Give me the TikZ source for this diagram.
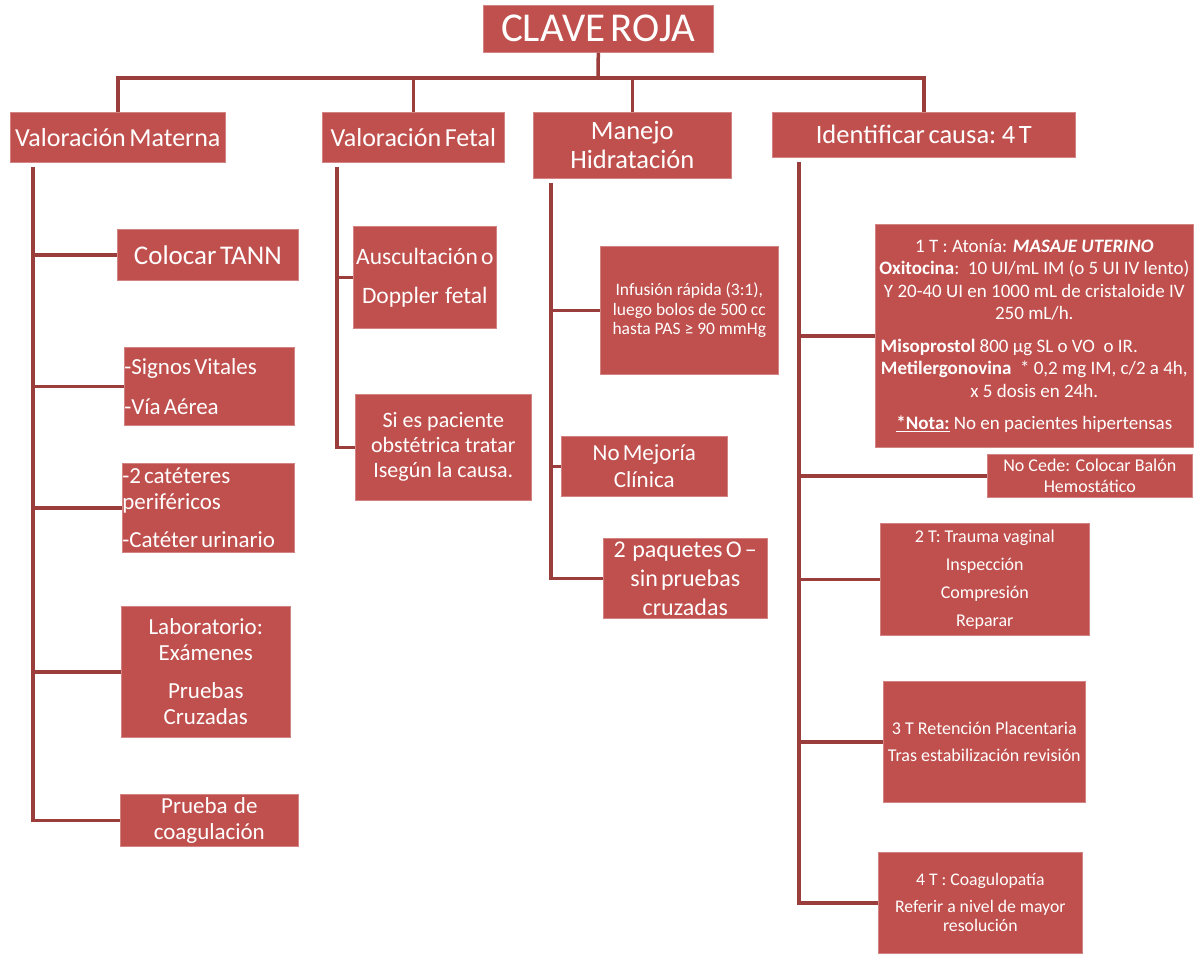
\documentclass[tikz,border=0pt]{standalone}
\usepackage{fontspec}
\setmainfont{Carlito}[WordSpace=0.6]
\newfontfamily\smallfont{Carlito}
\begin{document}
\begin{tikzpicture}[x=1pt,y=-1pt]
\definecolor{boxred}{HTML}{C0504D}
\definecolor{linered}{HTML}{9B3D3B}
\tikzset{
  bx/.style={fill=boxred, draw=boxred!70!white, line width=0.6pt, text=white, align=center,
    inner sep=0pt, anchor=north west, font=\fs{23}{26}},
  ln/.style={draw=linered, line width=3.5pt},
}
\newcommand{\fs}[2]{\fontsize{#1}{#2}\selectfont}
\fill[white] (0,0) rectangle (1198,953);
\useasboundingbox (0,0) rectangle (1198,953);

% top level
\node[bx, minimum width=230, minimum height=47, font=\fs{41}{44}] (cr) at (483,5) {CLAVE ROJA};
\node[bx, minimum width=215, minimum height=50, font=\fs{26}{28}] (vm) at (10,112) {Valoración Materna};
\node[bx, minimum width=182, minimum height=50, font=\fs{26}{28}] (vf) at (322,112) {Valoración Fetal};
\node[bx, minimum width=198, minimum height=66, font=\fs{26.5}{29}] (mh) at (533,112) {Manejo\\Hidratación};
\node[bx, minimum width=303, minimum height=45, font=\fs{26.5}{26}] (ic) at (772,112) {Identificar causa: 4 T};

% left column
\node[bx, minimum width=181, minimum height=51, font=\fs{27}{26}] (tann) at (117,229) {Colocar TANN};
\node[bx, minimum width=170, minimum height=78, text width=170, align=flush left] (sv) at (124,347) {-Signos Vitales\\[14pt]-Vía Aérea};
\node[bx, minimum width=172, minimum height=89, text width=172, align=flush left] (cat) at (122,463) {-2 catéteres\\periféricos\\[12pt]-Catéter urinario};
\node[bx, minimum width=169, minimum height=131] (lab) at (121,606) {Laboratorio:\\Exámenes\\[12pt]Pruebas\\Cruzadas};
\node[bx, minimum width=178, minimum height=52] (pc) at (120,794) {Prueba~~de\\coagulación};

% fetal column
\node[bx, minimum width=143, minimum height=102, font=\fs{23.5}{26}] (aus) at (353,226) {Auscultación o\\[13pt]Doppler~~fetal};
\node[bx, minimum width=176, minimum height=106, font=\smallfont\fs{22}{25}] (si) at (355,394) {Si es paciente\\obstétrica tratar\\Isegún la causa.};

% manejo column
\node[bx, minimum width=178, minimum height=128, font=\smallfont\fs{17.5}{19.5}] (inf) at (600,246) {Infusión rápida (3:1),\\luego bolos de 500 cc\\hasta PAS ≥ 90 mmHg};
\node[bx, minimum width=166, minimum height=60, font=\fs{23}{27}] (nm) at (561,436) {No Mejoría\\Clínica};
\node[bx, minimum width=164, minimum height=80, font=\fs{24}{29}] (paq) at (603,538) {2~~paquetes O –\\sin pruebas\\cruzadas};

% causes column
\node[bx, minimum width=318, minimum height=223, font=\smallfont\fs{19}{22.5}] (t1) at (875,224) {1 T : Atonía: \textbf{\textit{MASAJE UTERINO}}\\
\textbf{Oxitocina}:~~10 UI/mL IM (o 5 UI IV lento)\\
Y 20-40 UI en 1000 mL de cristaloide IV\\
250 mL/h.\\[10pt]
\textbf{Misoprostol} 800 µg SL o VO~~o IR.\makebox[50pt]{}\\
\textbf{Metilergonovina}~~* 0,2 mg IM, c/2 a 4h,\\
x 5 dosis en 24h.\\[10pt]
\underline{\textbf{*Nota:}} No en pacientes hipertensas};
\node[bx, minimum width=205, minimum height=43, font=\smallfont\fs{18}{21}] (nc) at (987,454) {No Cede: Colocar Balón\\Hemostático};
\node[bx, minimum width=209, minimum height=112, font=\smallfont\fs{18}{28}] (t2) at (880,523) {2 T: Trauma vaginal\\Inspección\\Compresión\\Reparar};
\node[bx, minimum width=202, minimum height=121, font=\smallfont\fs{18}{27}] (t3) at (883,681) {3 T Retención Placentaria\\Tras estabilización revisión};
\node[bx, minimum width=204, minimum height=101, font=\smallfont\fs{17.7}{19}] (t4) at (878,852) {4 T : Coagulopatía\\[8pt]Referir a nivel de mayor\\resolución};

% connectors: top
\coordinate (bus) at (598,78);
\draw[ln] (cr.south) -- (bus);
\draw[ln] (bus) -| (vm.north);
\draw[ln] (bus) -| (vf.north);
\draw[ln] (bus) -| (mh.north);
\draw[ln] (bus) -| (ic.north);

% trunks
\coordinate (vmT) at (33,167);
\coordinate (vfT) at (337,167);
\coordinate (mhT) at (551,183);
\coordinate (icT) at (799,162);
\foreach \b in {tann,sv,cat,lab,pc} \draw[ln] (vmT) |- (\b.west);
\foreach \b in {aus,si} \draw[ln] (vfT) |- (\b.west);
\foreach \b in {inf,nm,paq} \draw[ln] (mhT) |- (\b.west);
\foreach \b in {t1,nc,t2,t3,t4} \draw[ln] (icT) |- (\b.west);
\end{tikzpicture}
\end{document}
